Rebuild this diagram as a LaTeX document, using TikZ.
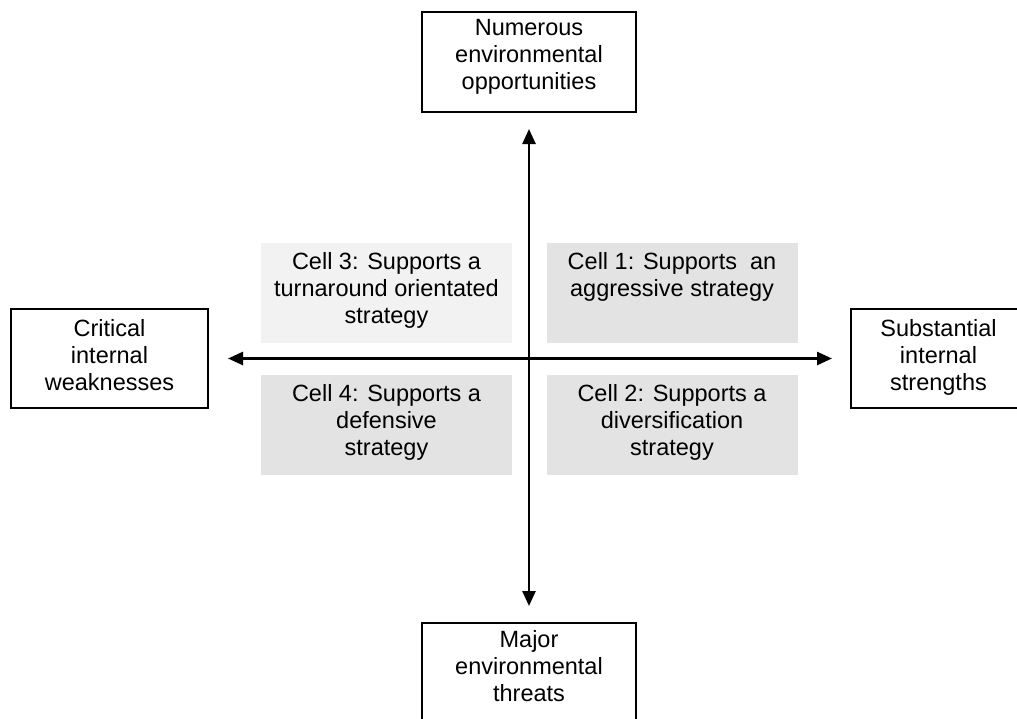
\documentclass[tikz,border=0pt]{standalone}
\usepackage{fontspec}
\setmainfont{Liberation Sans}
\usetikzlibrary{arrows.meta}
\begin{document}
\begin{tikzpicture}[x=1pt,y=-1pt,
  txt/.style={font=\fontsize{23.5}{27}\selectfont, align=center, inner sep=0pt, anchor=north},
  polebox/.style={draw=black, line width=2pt, inner sep=0pt, rectangle},
  cellbox/.style={fill=#1, draw=none, inner sep=0pt, minimum width=251, minimum height=100},
  axis/.style={line width=2.5pt, {Triangle[length=15pt,width=13pt]}-{Triangle[length=15pt,width=13pt]}}
]
\useasboundingbox (0,0) rectangle (1017,718);
\fill[white] (0,0) rectangle (1017,718);

% the four poles of the matrix
\node[polebox, minimum width=214, minimum height=100] (opp)  at (529,62) {};
\node[polebox, minimum width=214, minimum height=100] (thr)  at (529,673) {};
\node[polebox, minimum width=197, minimum height=99]  (weak) at (109.5,358.5) {};
\node[polebox, minimum width=175, minimum height=99]  (str)  at (938.5,358.5) {};

\node[txt] (opp-t)  at ([yshift=-8.5pt]opp.north)   {Numerous\\environmental\\opportunities};
\node[txt] (thr-t)  at ([yshift=-8.5pt]thr.north)   {Major\\environmental\\threats};
\node[txt] (weak-t) at ([yshift=-11.5pt]weak.north) {Critical\\internal\\weaknesses};
\node[txt] (str-t)  at ([yshift=-11.5pt]str.north)  {Substantial\\internal\\strengths};

% the four cells
\node[cellbox=black!5]  (c3) at (386.5,293) {};
\node[cellbox=black!11] (c1) at (672,293) {};
\node[cellbox=black!11] (c4) at (386.5,425) {};
\node[cellbox=black!11] (c2) at (672,425) {};

\node[txt] (c3-t) at ([yshift=-9pt]c3.north) {Cell 3: Supports a\\turnaround orientated\\strategy};
\node[txt] (c1-t) at ([yshift=-9pt]c1.north) {Cell 1: Supports\ \ an\\aggressive strategy};
\node[txt] (c4-t) at ([yshift=-9pt]c4.north) {Cell 4: Supports a\\defensive\\strategy};
\node[txt] (c2-t) at ([yshift=-9pt]c2.north) {Cell 2: Supports a\\diversification\\strategy};

% axes
\draw[axis, shorten <=16pt, shorten >=16pt] (opp.south) -- (thr.north);
\draw[axis, shorten <=19pt, shorten >=18pt] (weak.east) -- (str.west);
\end{tikzpicture}
\end{document}
